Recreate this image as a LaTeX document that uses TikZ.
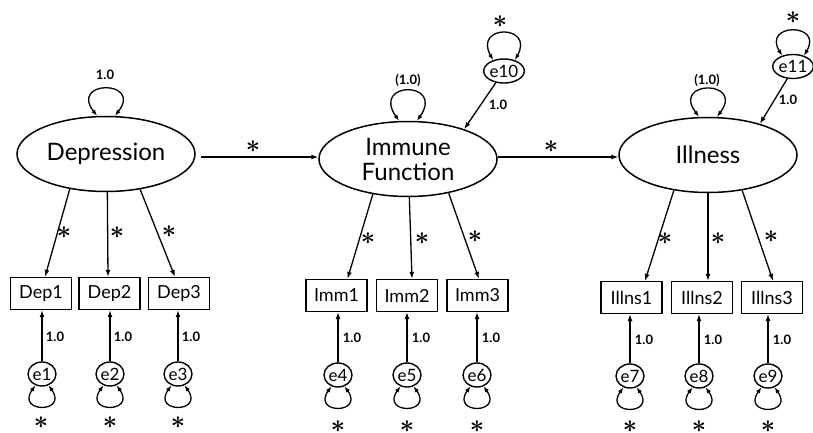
\documentclass[tikz,border=0pt]{standalone}
\usepackage{fontspec}
\setmainfont{Lato}
\usetikzlibrary{arrows.meta,shapes.geometric}
\begin{document}
\begin{tikzpicture}[x=1pt,y=-1pt,
  latent/.style={draw, ellipse, line width=1.5pt, minimum width=178pt, minimum height=75pt, inner sep=0pt, align=center, font=\fontsize{24}{25}\selectfont},
  obs/.style={draw, rectangle, line width=1.3pt, minimum width=61pt, minimum height=32pt, inner sep=0pt, font=\fontsize{18}{18}\selectfont},
  err/.style={draw, ellipse, line width=1.4pt, minimum width=28pt, minimum height=24pt, inner sep=0pt, font=\fontsize{17}{17}\selectfont},
  arr/.style={line width=1.3pt, -{Latex[length=7pt,width=5pt]}},
  selfloop/.style={line width=1.3pt, {Latex[length=6pt,width=4.5pt]}-{Latex[length=6pt,width=4.5pt]}},
  one/.style={inner sep=0pt, font=\fontsize{13}{13}\selectfont\bfseries},
  star/.style={inner sep=0pt, font=\fontsize{24}{24}\selectfont\boldmath}
]
\useasboundingbox (0,0) rectangle (813,433);

% latent variables
\node[latent] (dep) at (106,154) {Depression};
\node[latent] (imm) at (408,159) {Immune\\Function};
\node[latent] (ill) at (708,155) {Illness};

% observed
\node[obs] (dep1) at (41,293.5) {Dep1};
\node[obs] (dep2) at (109.5,293.5) {Dep2};
\node[obs] (dep3) at (179,293.5) {Dep3};
\node[obs] (imm1) at (336.5,295.5) {Imm1};
\node[obs] (imm2) at (407,295.5) {Imm2};
\node[obs] (imm3) at (477.5,295.5) {Imm3};
\node[obs] (il1) at (631.5,297.5) {Illns1};
\node[obs] (il2) at (702,297.5) {Illns2};
\node[obs] (il3) at (772,297.5) {Illns3};

% errors
\node[err] (e1) at (42,374) {e1};
\node[err] (e2) at (110,374) {e2};
\node[err] (e3) at (178,374) {e3};
\node[err] (e4) at (338,375) {e4};
\node[err] (e5) at (407,375) {e5};
\node[err] (e6) at (477,375) {e6};
\node[err] (e7) at (630,376) {e7};
\node[err] (e8) at (699,376) {e8};
\node[err] (e9) at (768,376) {e9};
\node[err] (e10) at (504,71) {e10};
\node[err] (e11) at (793,66.5) {e11};

% structural paths
\draw[arr] ([xshift=5pt,yshift=-3pt]dep.east) -- ([yshift=2pt]imm.west);
\node[star] (s1) at (253,147) {$\ast$};
\draw[arr] ([yshift=2pt]imm.east) -- ([yshift=-2pt]ill.west);
\node[star] (s2) at (551,147) {$\ast$};

% disturbance paths
\draw[arr] (e10.235) -- (imm.28);
\node[one] (l10) at (498,105) {1.0};
\draw[arr] (e11.245) -- (ill.31);
\node[one] (l11) at (788,100) {1.0};

% loadings
\draw[arr] (dep.224) -- ([xshift=4pt]dep1.north);
\draw[arr] (dep.272) -- ([xshift=-1.5pt]dep2.north);
\draw[arr] (dep.314) -- ([xshift=-4pt]dep3.north);
\node[star] (sd1) at (64,233) {$\ast$};
\node[star] (sd2) at (117,233) {$\ast$};
\node[star] (sd3) at (169,232) {$\ast$};
\draw[arr] (imm.225) -- ([xshift=11pt]imm1.north);
\draw[arr] (imm.272) -- ([xshift=5pt]imm2.north);
\draw[arr] (imm.320) -- ([xshift=1.5pt]imm3.north);
\node[star] (si1) at (368,239) {$\ast$};
\node[star] (si2) at (422,239) {$\ast$};
\node[star] (si3) at (475,237) {$\ast$};
\draw[arr] (ill.226) -- ([xshift=13.5pt]il1.north);
\draw[arr] (ill.270) -- ([xshift=6pt]il2.north);
\draw[arr] (ill.314) -- ([xshift=1pt]il3.north);
\node[star] (sl1) at (665,239) {$\ast$};
\node[star] (sl2) at (718,239) {$\ast$};
\node[star] (sl3) at (771,237) {$\ast$};

% error -> indicator
\foreach \e/\b/\x/\y in {e1/dep1/55/337, e2/dep2/123/337, e3/dep3/191/337,
                         e4/imm1/352/338, e5/imm2/421/338, e6/imm3/491/338,
                         e7/il1/644/340, e8/il2/713/340, e9/il3/782/340}{
  \draw[arr] (\e) -- (\e |- \b.south);
  \node[one] at (\x,\y) {1.0};
  \draw[selfloop] (\e.240) .. controls +(-20,28) and +(20,28) .. (\e.300);
}
\node[star] (se1) at (41,423) {$\ast$};
\node[star] (se2) at (110,423) {$\ast$};
\node[star] (se3) at (178,423) {$\ast$};
\node[star] (se4) at (338,427) {$\ast$};
\node[star] (se5) at (407,427) {$\ast$};
\node[star] (se6) at (477,427) {$\ast$};
\node[star] (se7) at (630,427) {$\ast$};
\node[star] (se8) at (699,427) {$\ast$};
\node[star] (se9) at (768,427) {$\ast$};

% variance loops on latents
\draw[selfloop] ([xshift=-9pt]dep.north) .. controls +(-28,-36) and +(28,-36) .. ([xshift=9pt]dep.north);
\node[one] (vd) at (105,75) {1.0};
\draw[selfloop] ([xshift=-9pt]imm.north) .. controls +(-28,-40) and +(28,-40) .. ([xshift=9pt]imm.north);
\node[one] (vi) at (408,80) {(1.0)};
\draw[selfloop] ([xshift=-9pt]ill.north) .. controls +(-28,-37) and +(28,-37) .. ([xshift=9pt]ill.north);
\node[one] (vl) at (707,80) {(1.0)};

% loops on disturbances
\draw[selfloop] (e10.135) .. controls +(-20,-36) and +(20,-36) .. (e10.45);
\node[star] (s10) at (500,22) {$\ast$};
\draw[selfloop] (e11.135) .. controls +(-20,-33) and +(20,-33) .. (e11.45);
\node[star] (s11) at (793,18) {$\ast$};
\end{tikzpicture}
\end{document}
